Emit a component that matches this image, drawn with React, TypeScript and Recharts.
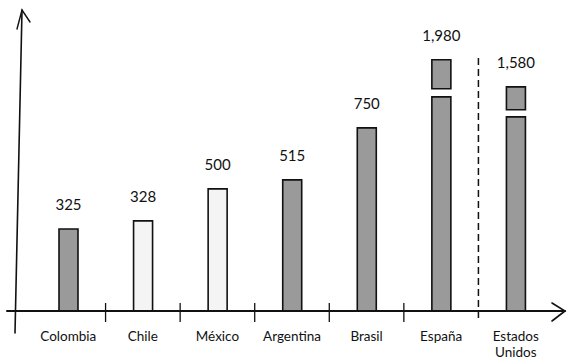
import React from "react";
import { BarChart, Bar, XAxis, YAxis, ReferenceLine, LabelList, Cell } from "recharts";

// ---- data ----
const categories = ["Colombia", "Chile", "México", "Argentina", "Brasil", "España", "Estados Unidos"];
const valueLabels = ["325", "328", "500", "515", "750", "1,980", "1,580"];
// drawn bar heights in axis units (the picture is not to scale; tall bars are broken)
const lowerPart = [336, 369, 500, 537, 750, 877, 795];
const breakGap = [0, 0, 0, 0, 0, 33, 29];
const upperPart = [0, 0, 0, 0, 0, 119, 94];
const separatorsBefore = ["Chile", "México", "Argentina", "Brasil", "España"];
const dashedBefore = "Estados Unidos";

const data = categories.map((name, i) => ({
  name,
  lower: lowerPart[i],
  gap: breakGap[i],
  upper: upperPart[i],
  label: valueLabels[i],
}));

// ---- styles ----
const DARK = "#9a9a9a";
const LIGHT = "#f4f4f4";
const BAR_FILLS = [DARK, LIGHT, LIGHT, DARK, DARK, DARK, DARK];
const INK = "#111";
const FONT = "Lato, 'Open Sans', sans-serif";

const CategoryTick = (props: any) => {
  const { x, y, payload } = props;
  const words: string[] = String(payload.value).split(" ");
  return (
    <g>
      {words.map((w, k) => (
        <text key={k} x={x} y={y + 30 + k * 16} textAnchor="middle" fontSize={13.5} fontFamily={FONT} fill={INK}>
          {w}
        </text>
      ))}
    </g>
  );
};

const makeLabel = (which: "lower" | "upper") => (props: any) => {
  const { x, y, width, value } = props;
  const i = valueLabels.indexOf(String(value));
  if (i < 0) return null;
  const broken = upperPart[i] > 0;
  if ((which === "lower" && broken) || (which === "upper" && !broken)) return null;
  return (
    <text x={x + width / 2} y={y - 19} textAnchor="middle" fontSize={15} fontFamily={FONT} fill={INK}>
      {valueLabels[i]}
    </text>
  );
};

const Baseline = (props: any) => {
  const { x1, x2, y1 } = props;
  const L = Math.min(x1, x2);
  const R = Math.max(x1, x2);
  return (
    <g stroke={INK} fill="none" strokeLinecap="round">
      <line x1={L} y1={y1} x2={R - 1} y2={y1} strokeWidth={2} />
      <polyline points={`${R - 14},${y1 - 8} ${R - 1},${y1} ${R - 14},${y1 + 10}`} strokeWidth={1.6} />
    </g>
  );
};

const VerticalAxis = (props: any) => {
  const { x1, y1, y2 } = props;
  const top = Math.min(y1, y2);
  const bottom = Math.max(y1, y2);
  const bx = x1 - 16;
  const tx = x1 - 9;
  const ty = top - 8;
  return (
    <g stroke={INK} fill="none" strokeLinecap="round">
      <line x1={bx} y1={bottom + 22} x2={tx} y2={ty} strokeWidth={1.6} />
      <polyline points={`${tx - 5},${ty + 19} ${tx},${ty} ${tx + 8},${ty + 12}`} strokeWidth={1.4} />
    </g>
  );
};

const Separator = (props: any) => {
  const { x1, y1, y2 } = props;
  const bottom = Math.max(y1, y2);
  return <line x1={x1} x2={x1} y1={bottom - 8} y2={bottom + 11} stroke={INK} strokeWidth={1.3} />;
};

const DashedDivider = (props: any) => {
  const { x1, y1, y2 } = props;
  const top = Math.min(y1, y2);
  const bottom = Math.max(y1, y2);
  return (
    <line x1={x1} x2={x1} y1={top + 40} y2={bottom + 11} stroke={INK} strokeWidth={1.5} strokeDasharray="7 4" />
  );
};

export default function App() {
  return (
    <div style={{ position: "absolute", left: 0, top: 0, width: 567, height: 363, background: "#fff" }}>
      <BarChart
        width={567}
        height={363}
        data={data}
        margin={{ top: 18, right: 1, bottom: 12, left: 7 }}
        barSize={19}
      >
        <XAxis
          dataKey="name"
          axisLine={false}
          tickLine={false}
          tickSize={0}
          tickMargin={0}
          height={40}
          interval={0}
          padding={{ left: 24, right: 13 }}
          tick={<CategoryTick />}
        />
        <YAxis domain={[0, 1200]} hide allowDataOverflow />

        <Bar dataKey="lower" stackId="s" stroke={INK} strokeWidth={1.6} isAnimationActive={false}>
          {data.map((_, i) => (
            <Cell key={"l" + i} fill={BAR_FILLS[i]} />
          ))}
          <LabelList dataKey="label" content={makeLabel("lower")} />
        </Bar>
        <Bar dataKey="gap" stackId="s" fill="transparent" isAnimationActive={false} />
        <Bar dataKey="upper" stackId="s" stroke={INK} strokeWidth={1.6} isAnimationActive={false}>
          {data.map((_, i) => (
            <Cell key={"u" + i} fill={BAR_FILLS[i]} />
          ))}
          <LabelList dataKey="label" content={makeLabel("upper")} />
        </Bar>

        <ReferenceLine y={0} ifOverflow="visible" shape={<Baseline />} />
        <ReferenceLine x={categories[0]} position="start" ifOverflow="visible" shape={<VerticalAxis />} />
        {separatorsBefore.map((c) => (
          <ReferenceLine key={c} x={c} position="start" ifOverflow="visible" shape={<Separator />} />
        ))}
        <ReferenceLine x={dashedBefore} position="start" ifOverflow="visible" shape={<DashedDivider />} />
      </BarChart>
    </div>
  );
}
